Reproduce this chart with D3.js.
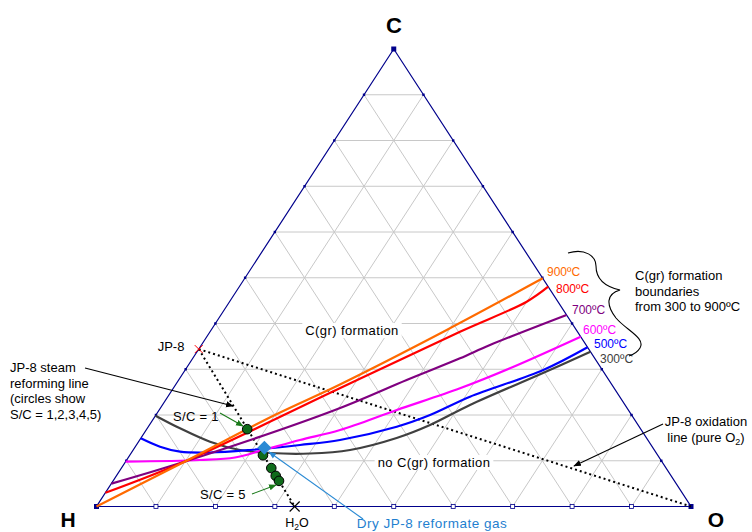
<!DOCTYPE html>
<html><head><meta charset="utf-8">
<script src="https://cdn.jsdelivr.net/npm/d3@7"></script>
<style>
body{margin:0;background:#fff}
svg{display:block;font-family:"Liberation Sans",Arial,sans-serif}
</style></head>
<body><svg id="c" width="752" height="532"></svg>
<script>
// ---- data (atomic fractions: [C, O], H = 1 - C - O) ----
const vertexLabels = ["C", "H", "O"];
const gridValues = [0.1,0.2,0.3,0.4,0.5,0.6,0.7,0.8,0.9];
const tempLabels = ["900ºC","800ºC","700ºC","600ºC","500ºC","300ºC"];
const b900 = [[0,0],[0.0984,0.0997],[0.2,0.2],[0.2656,0.2750],[0.3858,0.3962],[0.4988,0.5012]];
const b800 = [[0.03,0],[0.0984,0.0997],[0.2536,0.2744],[0.3821,0.4204],[0.4477,0.4998],[0.4804,0.5196]];
const b700 = [[0.05,0],[0.0984,0.0997],[0.2109,0.2957],[0.2765,0.3835],[0.3239,0.4495],[0.353,0.4854],[0.4186,0.5814]];
const b600 = [[0.0979,0],[0.1016,0.1233],[0.1071,0.1795],[0.1235,0.2188],[0.1454,0.2696],[0.1672,0.326],[0.2109,0.3996],[0.2584,0.4822],[0.3021,0.5444],[0.3711,0.6289]];
const b500 = [[0.1491,0],[0.1307,0.0415],[0.1198,0.0806],[0.118,0.1319],[0.1235,0.1965],[0.1344,0.2751],[0.1454,0.3369],[0.1744,0.4178],[0.2,0.461],[0.24,0.5083],[0.2984,0.6023],[0.348,0.652]];
const b300 = [[0.1985,0],[0.1709,0.055],[0.1416,0.1201],[0.1235,0.1796],[0.1169,0.2334],[0.1158,0.3012],[0.1235,0.3647],[0.1497,0.430],[0.1781,0.472],[0.2219,0.5173],[0.2918,0.6051],[0.3384,0.6616]];
const jp8 = [0.344, 0];
const h2o = [0, 0.3333];
const oxygen = [0, 1];
const scPoints = [[0.169,0.169],[0.112,0.224],[0.084,0.252],[0.067,0.268],[0.056,0.279]];
const dryReformate = [0.1285, 0.2181];

// ---- layout ----
const svg = d3.select("#c");
const xs = d3.scaleLinear().domain([0,1]).range([96.5,691]);
const ys = d3.scaleLinear().domain([0,1]).range([506.5,49]);
const P = d => [xs(d[1] + d[0]/2), ys(d[0])];
const NAVY = "#00008b";
const curveColors = ["#ff6a00","#ff0000","#800080","#ff00ff","#0000ff","#404040"];
const boundaries = [b900,b800,b700,b600,b500,b300];
const labelPos = [[547,276],[556,293],[572,314],[583,334],[594,348],[600,363]];

const defs = svg.append("defs");
function marker(id, color){
  defs.append("marker").attr("id",id).attr("viewBox","0 0 10 10").attr("refX",9).attr("refY",5)
    .attr("markerWidth",7).attr("markerHeight",7).attr("orient","auto")
    .append("path").attr("d","M0,1 L10,5 L0,9 z").attr("fill",color);
}
marker("ab","#000"); marker("ag","#1a7a1a"); marker("au","#2a8ad4");

// grid
const g = svg.append("g").attr("stroke","#c8c8c8").attr("stroke-width",1).attr("fill","none");
gridValues.forEach(v=>{
  const segs = [[[v,0],[v,1-v]], [[0,v],[1-v,v]], [[0,1-v],[1-v,0]]];
  segs.forEach(s=>{ const a=P(s[0]), b=P(s[1]); g.append("line").attr("x1",a[0]).attr("y1",a[1]).attr("x2",b[0]).attr("y2",b[1]); });
});

function boxText(x,y,txt,opts={}){
  const t = svg.append("text").attr("x",x).attr("y",y).attr("font-size",opts.size||13)
    .attr("text-anchor",opts.anchor||"middle").attr("fill",opts.color||"#000").text(txt);
  if(opts.ls) t.attr("letter-spacing",opts.ls);
  if(opts.box){
    const bb = t.node().getBBox();
    svg.insert("rect", () => t.node()).attr("x",bb.x-3).attr("y",bb.y).attr("width",bb.width+6).attr("height",bb.height).attr("fill","#fff");
  }
  return t;
}
boxText(352,335,"C(gr) formation",{box:true,ls:0.4});
boxText(434,467,"no C(gr) formation",{box:true,ls:0.4});

// triangle
const tri = [[1,0],[0,0],[0,1]].map(P);
svg.append("path").attr("d","M"+tri.join("L")+"Z").attr("fill","none").attr("stroke",NAVY).attr("stroke-width",1.2);
gridValues.forEach(v=>{
  const bp = P([0,v]);
  svg.append("rect").attr("x",bp[0]-2).attr("y",bp[1]-2).attr("width",4).attr("height",4).attr("fill","#fff").attr("stroke",NAVY).attr("stroke-width",0.8);
  [[v,0],[v,1-v]].forEach(d=>{ const p=P(d);
    svg.append("rect").attr("x",p[0]-1.2).attr("y",p[1]-1.2).attr("width",2.4).attr("height",2.4).attr("fill",NAVY); });
});
tri.forEach(p=>svg.append("rect").attr("x",p[0]-2.5).attr("y",p[1]-2.5).attr("width",5).attr("height",5).attr("fill",NAVY));

function dotted(a,b){ const p=P(a), q=P(b);
  svg.append("line").attr("x1",p[0]).attr("y1",p[1]).attr("x2",q[0]).attr("y2",q[1])
   .attr("stroke","#000").attr("stroke-width",2).attr("stroke-dasharray","2,3"); }
dotted(jp8,oxygen); dotted(jp8,h2o);

const line = d3.line().x(d=>P(d)[0]).y(d=>P(d)[1]).curve(d3.curveCatmullRom.alpha(0.5));
boundaries.slice().reverse().forEach((b,i)=>{
  const k = boundaries.length-1-i;
  svg.append("path").attr("d",line(b)).attr("fill","none").attr("stroke",curveColors[k]).attr("stroke-width",2.2);
});
tempLabels.forEach((t,i)=>svg.append("text").attr("x",labelPos[i][0]).attr("y",labelPos[i][1]).attr("font-size",12).attr("fill",curveColors[i]).text(t));

const jp = P(jp8);
svg.append("path").attr("d",`M${jp[0]-4},${jp[1]-4}L${jp[0]+4},${jp[1]+4}M${jp[0]-4},${jp[1]+4}L${jp[0]+4},${jp[1]-4}`).attr("stroke","#ff0000").attr("stroke-width",1);
const hp = P(h2o);
svg.append("path").attr("d",`M${hp[0]-5},${hp[1]-5}L${hp[0]+5},${hp[1]+5}M${hp[0]-5},${hp[1]+5}L${hp[0]+5},${hp[1]-5}`).attr("stroke","#000").attr("stroke-width",1.2);
svg.selectAll("circle.sc").data(scPoints).join("circle").attr("cx",d=>P(d)[0]).attr("cy",d=>P(d)[1]).attr("r",4.8)
  .attr("fill","#0f6b1a").attr("stroke","#000").attr("stroke-width",1);
const dp = P(dryReformate);
svg.append("path").attr("d",`M${dp[0]},${dp[1]-7}L${dp[0]+7},${dp[1]}L${dp[0]},${dp[1]+7}L${dp[0]-7},${dp[1]}Z`).attr("fill","#2a8ad4");

// vertex labels
svg.append("text").attr("x",394).attr("y",33).attr("text-anchor","middle").attr("font-size",22).attr("font-weight","bold").text(vertexLabels[0]);
svg.append("text").attr("x",68).attr("y",527).attr("text-anchor","middle").attr("font-size",21).attr("font-weight","bold").text(vertexLabels[1]);
svg.append("text").attr("x",716).attr("y",527).attr("text-anchor","middle").attr("font-size",21).attr("font-weight","bold").text(vertexLabels[2]);

// annotations
const h2oT = svg.append("text").attr("x",297).attr("y",527).attr("text-anchor","middle").attr("font-size",12.5);
h2oT.append("tspan").text("H"); h2oT.append("tspan").attr("font-size",8.5).attr("dy",3).text("2"); h2oT.append("tspan").attr("dy",-3).text("O");
boxText(171,351,"JP-8");
["JP-8 steam","reforming line","(circles show","S/C = 1,2,3,4,5)"].forEach((t,i)=>boxText(10,372+i*15.5,t,{anchor:"start",size:13}));
boxText(173,421,"S/C = 1",{anchor:"start",ls:0.3});
boxText(200,499,"S/C = 5",{anchor:"start",ls:0.3});
["C(gr) formation","boundaries","from 300 to 900ºC"].forEach((t,i)=>boxText(635,280+i*15.5,t,{anchor:"start",size:13}));
svg.append("text").attr("x",706).attr("y",426).attr("text-anchor","middle").attr("font-size",13).text("JP-8 oxidation");
const ox2 = svg.append("text").attr("x",706).attr("y",442).attr("text-anchor","middle").attr("font-size",13);
ox2.append("tspan").text("line (pure O"); ox2.append("tspan").attr("font-size",9).attr("dy",3).text("2"); ox2.append("tspan").attr("dy",-3).text(")");
boxText(432,528,"Dry JP-8 reformate gas",{color:"#1f7fd0",size:13.5,ls:0.5});

function arrow(x1,y1,x2,y2,color,m,w){
  svg.append("line").attr("x1",x1).attr("y1",y1).attr("x2",x2).attr("y2",y2).attr("stroke",color).attr("stroke-width",w||1.1).attr("marker-end",`url(#${m})`);
}
arrow(85,368,233,406,"#000","ab");
arrow(663,424,574,466,"#000","ab");
arrow(220,413,243,426,"#1a7a1a","ag");
arrow(252,494,276,485,"#1a7a1a","ag");
arrow(363,519,269,452,"#2a8ad4","au");

svg.append("path").attr("d","M568,253 C585,248 596,256 596,266 C596,276 602,286 620,290 C606,294 606,305 616,318 C626,330 646,338 640,348 C637,353 632,355 629,356")
  .attr("fill","none").attr("stroke","#000").attr("stroke-width",1.1);
</script></body></html>
